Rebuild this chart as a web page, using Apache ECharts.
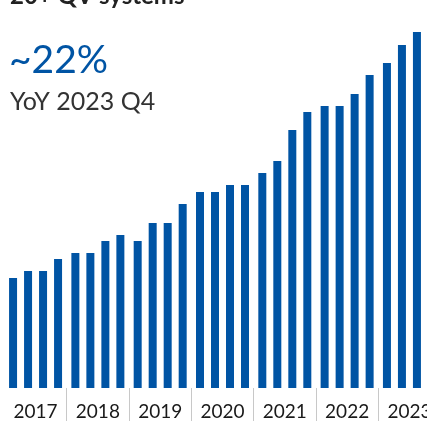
<!DOCTYPE html>
<html>
<head>
<meta charset="utf-8">
<script src="https://cdn.jsdelivr.net/npm/echarts@6/dist/echarts.min.js"></script>
<style>
html,body{margin:0;padding:0;background:#fff;overflow:hidden;width:427px;height:422px;}
#chart{width:441px;height:422px;}
</style>
</head>
<body>
<div id="chart"></div>
<script>
const years = ['2017','2018','2019','2020','2021','2022','2023'];
const q1 = [110, 135, 147, 196, 215, 282, 325];
const q2 = [117, 135, 165, 196, 227, 282, 343];
const q3 = [117, 147, 165, 203, 258, 294, 356];
const q4 = [129, 153, 184, 203, 276, 313, null];
const titleText = '20+ QV systems';
const bigStat = '~22%';
const statLabel = 'YoY 2023 Q4';

const blue = '#0054A4';
const chart = echarts.init(document.getElementById('chart'));
const mk = (name, data) => ({
  type: 'bar', name, data, barWidth: 8, barGap: '87.5%',
  itemStyle: { color: blue }, silent: true
});
chart.setOption({
  animation: false,
  grid: { left: 4.4, top: 0, right: 0.4, bottom: 34, containLabel: false },
  xAxis: {
    type: 'category', data: years, boundaryGap: true,
    axisLine: { show: false },
    axisTick: { show: true, length: 33, lineStyle: { color: '#c8c8c8', width: 1 },
      interval: function (i) { return i > 0; } },
    axisLabel: { fontSize: 19, color: '#1a1a1a', fontFamily: 'Lato, "Open Sans", sans-serif', margin: 14 }
  },
  yAxis: { type: 'value', min: 0, max: 388, show: false, splitLine: { show: false } },
  series: [mk('Q1', q1), mk('Q2', q2), mk('Q3', q3), mk('Q4', q4)],
  graphic: [
    { type: 'text', left: 10, top: -16, style: { text: titleText, fontSize: 24, fontWeight: 'bold', fill: '#222', fontFamily: 'Lato, sans-serif' } },
    { type: 'text', left: 9, top: 41, style: { text: bigStat, fontSize: 39, fontWeight: 'normal', fill: blue, fontFamily: 'Lato, sans-serif' } },
    { type: 'text', left: 10, top: 89, style: { text: statLabel, fontSize: 25, fontWeight: 'normal', fill: '#333', fontFamily: 'Lato, sans-serif' } }
  ]
});
</script>
</body>
</html>
